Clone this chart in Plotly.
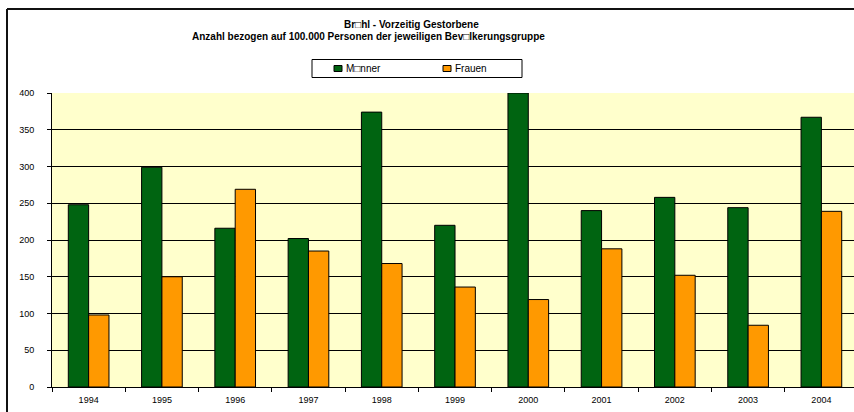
import plotly.graph_objects as go

years = ["1994", "1995", "1996", "1997", "1998", "1999", "2000", "2001", "2002", "2003", "2004"]
maenner = [248, 299, 216, 202, 374, 220, 400, 240, 258, 244, 367]
frauen = [98, 150, 269, 185, 168, 136, 119, 188, 152, 84, 239]
y_ticks = [0, 50, 100, 150, 200, 250, 300, 350, 400]

title1 = "<b>Br\u25a1hl - Vorzeitig Gestorbene</b>"
title2 = "<b>Anzahl bezogen auf 100.000 Personen der jeweiligen Bev\u25a1lkerungsgruppe</b>"
name_m = "M\u25a1nner"
name_f = "Frauen"
col_m = "#006411"
col_f = "#FF9900"

W, H = 854, 412
L, R, T, B = 52, 0, 93, 25
pw, ph = W - L - R, H - T - B

def px(x):
    return (x - L) / pw

def py(y):
    return (H - B - y) / ph

FONT = "Arial, 'Liberation Sans', sans-serif"

fig = go.Figure()
fig.add_trace(go.Bar(x=years, y=maenner, name=name_m,
                     marker=dict(color=col_m, line=dict(color="#000000", width=1)),
                     hoverinfo="skip"))
fig.add_trace(go.Bar(x=years, y=frauen, name=name_f,
                     marker=dict(color=col_f, line=dict(color="#000000", width=1)),
                     hoverinfo="skip"))

shapes = [
    dict(type="line", xref="paper", yref="paper", x0=px(7), x1=px(870), y0=py(9), y1=py(9),
         line=dict(color="#111111", width=2)),
    dict(type="line", xref="paper", yref="paper", x0=px(7), x1=px(7), y0=py(9), y1=py(430),
         line=dict(color="#111111", width=2)),
    # legend box
    dict(type="rect", xref="paper", yref="paper", x0=px(312), x1=px(522), y0=py(59.5), y1=py(77.5),
         line=dict(color="#000000", width=1), fillcolor="#FFFFFF"),
    dict(type="rect", xref="paper", yref="paper", x0=px(334), x1=px(342), y0=py(65.5), y1=py(71.5),
         line=dict(color="#000000", width=1), fillcolor=col_m),
    dict(type="rect", xref="paper", yref="paper", x0=px(443), x1=px(451), y0=py(65.5), y1=py(71.5),
         line=dict(color="#000000", width=1), fillcolor=col_f),
]

annotations = [
    dict(text=title1, x=px(411), y=py(25), xref="paper", yref="paper",
         xanchor="center", yanchor="middle", showarrow=False,
         font=dict(family=FONT, size=10, color="#000000")),
    dict(text=title2, x=px(368), y=py(36.5), xref="paper", yref="paper",
         xanchor="center", yanchor="middle", showarrow=False,
         font=dict(family=FONT, size=10, color="#000000")),
    dict(text=name_m, x=px(344), y=py(68.5), xref="paper", yref="paper",
         xanchor="left", yanchor="middle", showarrow=False,
         font=dict(family=FONT, size=10, color="#000000")),
    dict(text=name_f, x=px(453), y=py(68.5), xref="paper", yref="paper",
         xanchor="left", yanchor="middle", showarrow=False,
         font=dict(family=FONT, size=10, color="#000000")),
]

fig.update_layout(
    width=W, height=H,
    margin=dict(l=L, r=R, t=T, b=B, pad=0),
    paper_bgcolor="#FFFFFF",
    plot_bgcolor="#FFFFCC",
    barmode="group",
    bargap=0.445,
    bargroupgap=0,
    font=dict(family=FONT, size=9, color="#000000"),
    showlegend=False,
    xaxis=dict(type="category", range=[-0.5, 10.445], showgrid=False,
               showline=True, linecolor="#000000", linewidth=1,
               ticks="outside", tickson="boundaries", ticklen=4, tickcolor="#000000",
               ticklabelstandoff=4,
               tickfont=dict(family=FONT, size=9, color="#000000"),
               fixedrange=True),
    yaxis=dict(range=[0, 400], tickvals=y_ticks, showgrid=True, gridcolor="#000000", gridwidth=1,
               showline=True, linecolor="#000000", linewidth=1, zeroline=False,
               ticks="outside", ticklen=4, tickcolor="#000000",
               ticklabelstandoff=11,
               tickfont=dict(family=FONT, size=9, color="#000000"),
               fixedrange=True),
    annotations=annotations,
    shapes=shapes,
)

fig.write_html("out.html", config={"displayModeBar": False},
               post_script="document.body.style.margin='0';document.body.style.padding='0';")
